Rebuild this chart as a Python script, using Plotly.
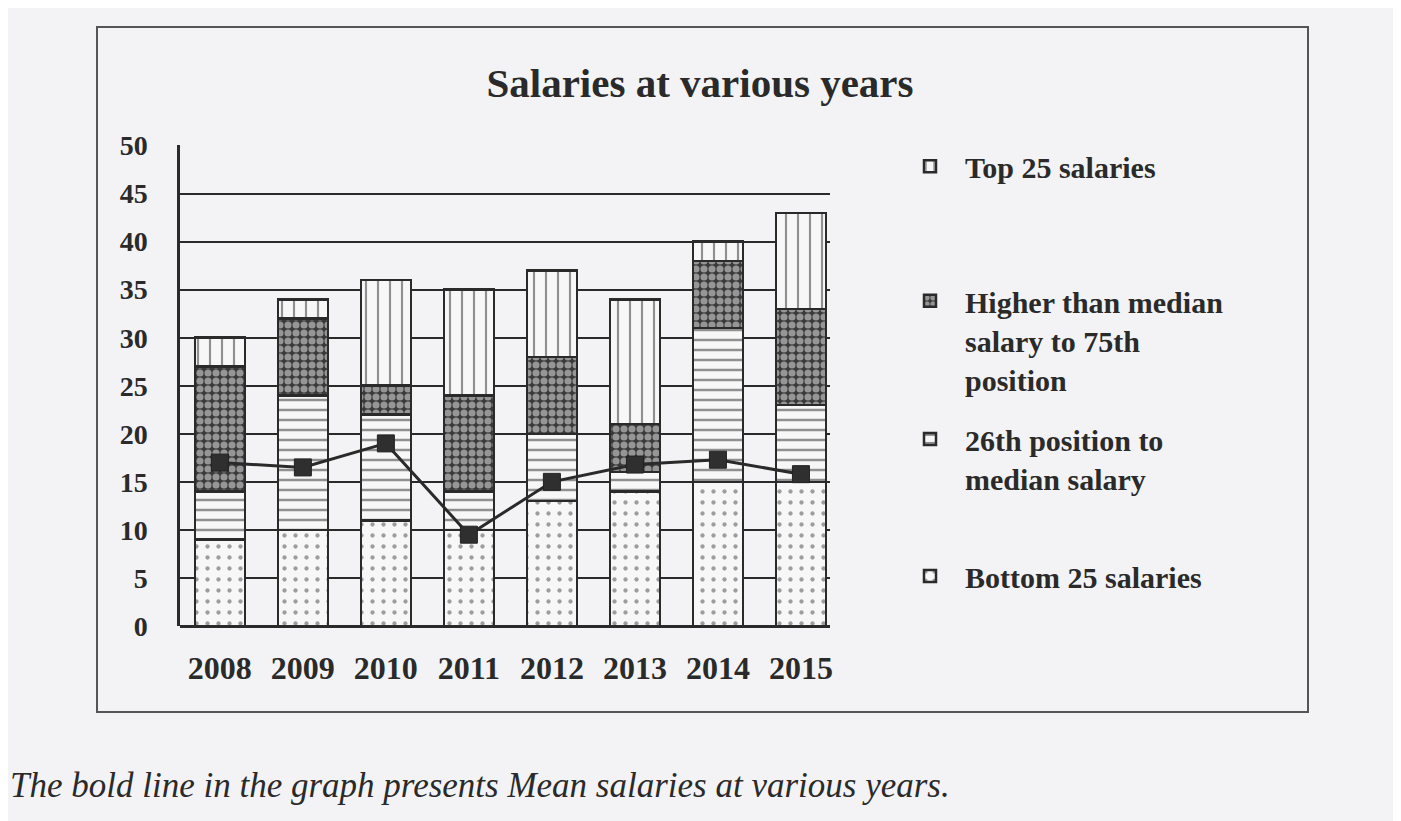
import plotly.graph_objects as go

years = ["2008", "2009", "2010", "2011", "2012", "2013", "2014", "2015"]
bottom25 = [9, 10, 11, 10, 13, 14, 15, 15]
pos26_to_median = [5, 14, 11, 4, 7, 2, 16, 8]
median_to_75 = [13, 8, 3, 10, 8, 5, 7, 10]
top25 = [3, 2, 11, 11, 9, 13, 2, 10]
mean_salary = [17, 16.5, 19, 9.5, 15, 16.8, 17.3, 15.8]

y_ticks = [0, 5, 10, 15, 20, 25, 30, 35, 40, 45, 50]

FONT = "Liberation Serif"
INK = "#2a2a2a"
BG = "#f3f3f5"

# page body has an 8px margin; the figure is sized to fit the window
W, H = 1393, 813
OFF = 8
PL, PT, PW, PH = 180 - OFF, 145 - OFF, 650, 481

fig = go.Figure()

line_style = dict(color=INK, width=2.5)

fig.add_trace(go.Bar(
    x=years, y=bottom25, name="Bottom 25 salaries", legend="legend4",
    marker=dict(color="#f7f7f7", line=line_style,
                pattern=dict(shape=".", size=11, solidity=0.12, fgcolor="#444", bgcolor="#f7f7f7")),
))
fig.add_trace(go.Bar(
    x=years, y=pos26_to_median, name="26th position to<br>median salary", legend="legend3",
    marker=dict(color="#f7f7f7", line=line_style,
                pattern=dict(shape="-", size=10, solidity=0.25, fgcolor=INK, bgcolor="#f7f7f7")),
))
fig.add_trace(go.Bar(
    x=years, y=median_to_75, name="Higher than median<br>salary to 75th<br>position", legend="legend2",
    marker=dict(color="#3a3a3a", line=line_style,
                pattern=dict(shape=".", size=8, solidity=0.62, fgcolor="#f0f0f0", bgcolor="#3a3a3a")),
))
fig.add_trace(go.Bar(
    x=years, y=top25, name="Top 25 salaries", legend="legend",
    marker=dict(color="#f7f7f7", line=line_style,
                pattern=dict(shape="|", size=12, solidity=0.18, fgcolor=INK, bgcolor="#f7f7f7")),
))
fig.add_trace(go.Scatter(
    x=years, y=mean_salary, name="Mean salaries", mode="lines+markers", showlegend=False,
    line=dict(color=INK, width=3),
    marker=dict(symbol="square", size=17, color="#2f2f2f", line=dict(color="#222", width=1)),
))

legend_common = dict(
    bgcolor="rgba(0,0,0,0)", borderwidth=0, valign="top", itemwidth=60,
    font=dict(family=FONT, size=30, color=INK, weight="bold"), xanchor="left", yanchor="top",
    itemclick=False, itemdoubleclick=False,
)
lx = 1.10
fig.update_layout(
    legend=dict(x=lx, y=1.010, **legend_common),
    legend2=dict(x=lx, y=0.730, **legend_common),
    legend3=dict(x=lx, y=0.443, **legend_common),
    legend4=dict(x=lx, y=0.158, **legend_common),
)

fig.update_layout(
    width=W, height=H, autosize=False,
    margin=dict(l=PL, r=W - PL - PW, t=PT, b=H - PT - PH),
    paper_bgcolor=BG, plot_bgcolor=BG,
    barmode="stack", bargap=0.4,
    font=dict(family=FONT, color=INK),
    title=dict(text="Salaries at various years", x=(700 - OFF) / W, xanchor="center",
               xref="container", y=1 - (83 - OFF) / H, yref="container", yanchor="middle",
               font=dict(family=FONT, size=41, color=INK, weight="bold")),
    xaxis=dict(type="category", range=[-0.48, 7.35], showgrid=False, showline=False,
               ticks="", tickfont=dict(family=FONT, size=32, color=INK, weight="bold"),
               ticklabelstandoff=20, zeroline=False),
    yaxis=dict(range=[0, 50.05], tickvals=y_ticks, showgrid=True, gridcolor=INK, gridwidth=2,
               showline=True, linecolor=INK, linewidth=2.5, ticks="",
               tickfont=dict(family=FONT, size=28, color=INK, weight="bold"), ticklabelstandoff=24,
               zeroline=True, zerolinecolor=INK, zerolinewidth=2.5),
    annotations=[dict(
        text="<i>The bold line in the graph presents Mean salaries at various years.</i>",
        xref="paper", yref="paper", x=(8 - 180) / PW, y=(626 - 785) / PH,
        xanchor="left", yanchor="middle",
        showarrow=False, font=dict(family=FONT, size=35, color=INK),
    )],
    shapes=[dict(
        type="rect", xref="paper", yref="paper",
        x0=(97 - 180) / PW, x1=(1308 - 180) / PW,
        y0=(626 - 712) / PH, y1=(626 - 27) / PH,
        line=dict(color="#555", width=2), fillcolor="rgba(0,0,0,0)", layer="below",
    )],
)

fig.write_html("out.html")
